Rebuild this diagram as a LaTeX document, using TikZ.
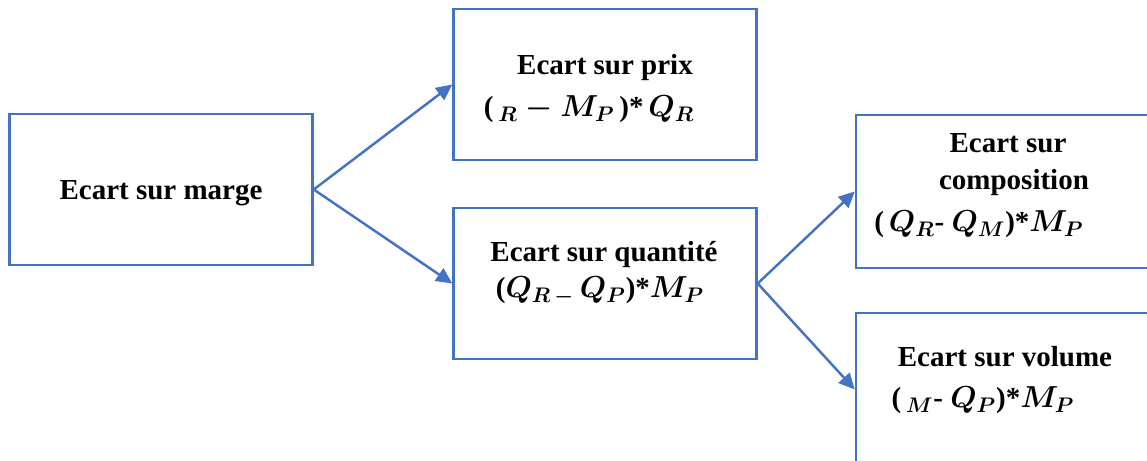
\documentclass[tikz,border=0pt]{standalone}
\usepackage{amsmath,amssymb}
\usepackage{fontspec}
\setmainfont{Liberation Serif}
\usepackage{xcolor}
\usepackage{tikz}
\usetikzlibrary{arrows.meta, positioning, calc}

\definecolor{boxblue}{HTML}{4472C4}

\begin{document}
\begin{tikzpicture}[
    font=\fontsize{16.5}{20}\selectfont\bfseries\boldmath,
    >={Triangle[length=0.32cm, width=0.3cm]},
    baseBox/.style={
        rectangle,
        draw=boxblue,
        line width=1.4pt,
        inner sep=0pt
    },
    ecart/.style={baseBox, minimum width=6.06cm, minimum height=3.02cm},
    sousEcart/.style={baseBox, minimum width=6.18cm, minimum height=3.06cm},
    txt/.style={anchor=base, inner sep=0pt},
    seta/.style={->, line width=1.4pt, draw=boxblue}
]
    \useasboundingbox (0,0) rectangle (22.94,-9.22);
    \clip (0,0) rectangle (22.94,-9.22);

    % --- 1. Ecart sur marge ---
    \node[ecart] (marge) at (3.22,-3.79) {};
    \node[txt] (margeT) at (3.22,-3.99) {Ecart sur marge};

    % --- 2. Prix et quantite ---
    \node[ecart] (prix) at (12.10,-1.69) {};
    \node[txt] (prixT) at (12.10,-1.50) {Ecart sur prix};
    \node[txt] (prixF) at (11.78,-2.34) {(\,${}_{R} - M_{P}$\,)*\,$Q_{R}$};

    \node[ecart] (quant) at (12.10,-5.67) {};
    \node[txt] (quantT) at (12.08,-5.24) {Ecart sur quantité};
    \node[txt] (quantF) at (12.00,-5.96) {($Q_{R\,-}\,Q_{P}$)*$M_{P}$};

    % --- 3. Composition et volume ---
    \node[sousEcart] (compo) at (20.21,-3.83) {};
    \node[txt] (compoT) at (20.16,-3.06) {Ecart sur};
    \node[txt] (compoT2) at (20.28,-3.80) {composition};
    \node[txt] (compoF) at (19.58,-4.64) {(\,$Q_{R}$- $Q_{M}$)*$M_{P}$};

    \node[sousEcart] (vol) at (20.21,-7.79) {};
    \node[txt] (volT) at (20.10,-7.34) {Ecart sur volume};
    \node[txt] (volF) at (19.66,-8.16) {(\,${}_{M}$- $Q_{P}$)*$M_{P}$};

    % --- Connections ---
    \draw[seta] (marge.east) -- (prix.west);
    \draw[seta] (marge.east) -- (quant.west);

    \draw[seta] (quant.east) -- (compo.west);
    \draw[seta] (quant.east) -- (vol.west);
\end{tikzpicture}
\end{document}
